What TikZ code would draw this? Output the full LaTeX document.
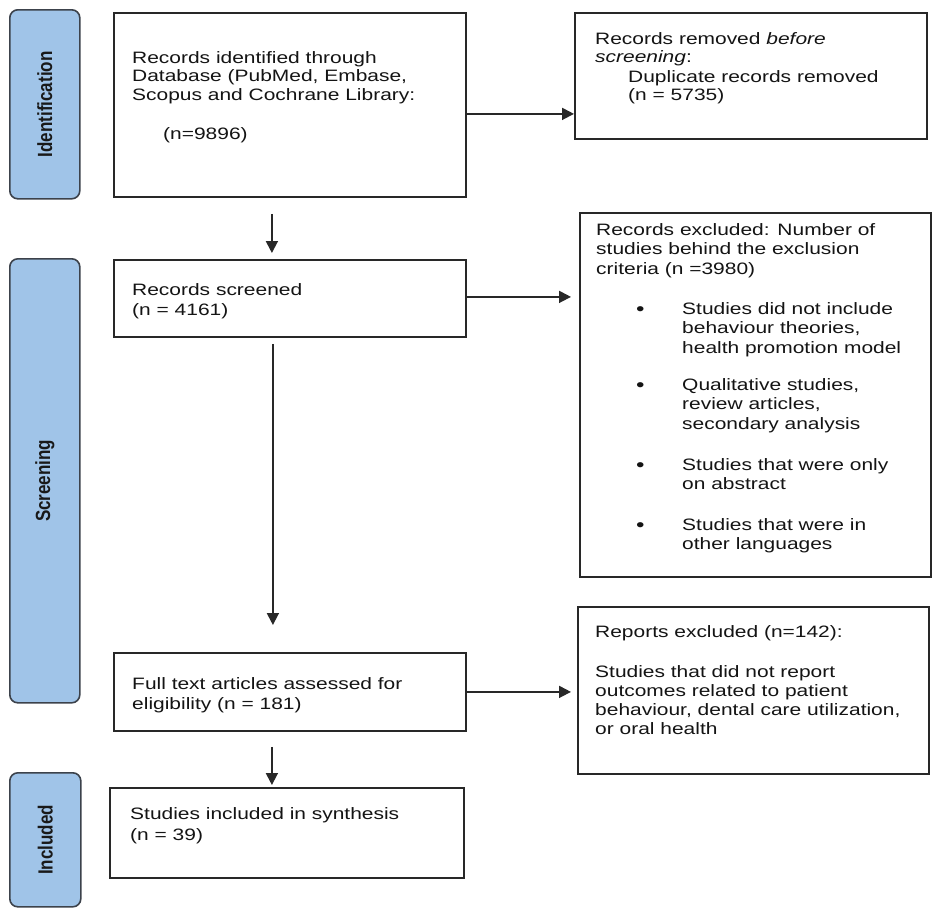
\documentclass[tikz,border=0pt]{standalone}
\usepackage{fontspec}
\setmainfont{Liberation Sans}[FakeStretch=1.27]
\newfontfamily\phasefont{Liberation Sans}[FakeStretch=0.83]
\usetikzlibrary{arrows.meta}
\definecolor{phasefill}{RGB}{160,196,232}
\definecolor{phaseline}{RGB}{60,66,75}
\definecolor{lineclr}{RGB}{40,40,40}
\definecolor{txtclr}{RGB}{20,20,20}
\begin{document}
\begin{tikzpicture}[x=1pt,y=-1pt,
  box/.style={draw=lineclr,line width=1.8pt,fill=white,inner sep=0pt,anchor=north west},
  phase/.style={draw=phaseline,fill=phasefill,line width=1.6pt,rounded corners=8pt,inner sep=0pt,anchor=north west},
  phasetxt/.style={rotate=90,inner sep=0pt,font=\phasefont\bfseries\fontsize{20.5}{24}\selectfont,text=black!90},
  txt/.style={anchor=base west,inner sep=0pt,align=left,text=txtclr,font=\fontsize{16.5}{18.5}\selectfont},
  dot/.style={anchor=base west,inner sep=0pt,text=txtclr,font=\fontsize{19}{19}\selectfont},
  arr/.style={draw=lineclr,line width=1.8pt,-{Triangle[length=12pt,width=12pt]}}]
\useasboundingbox (0,0) rectangle (936,910);
% phases
\node[phase,minimum width=70pt,minimum height=189pt] (pid) at (9,9) {};
\node[phasetxt] (pidt) at (pid.center) {Identification};
\node[phase,minimum width=70pt,minimum height=444pt] (pscr) at (9,258) {};
\node[phasetxt] (pscrt) at (pscr.center) {Screening};
\node[phase,minimum width=71pt,minimum height=134pt] (pinc) at (9,772) {};
\node[phasetxt] (pinct) at (pinc.center) {Included};
% boxes
\node[box,minimum width=352pt,minimum height=184pt] (id) at (113,12) {};
\node[box,minimum width=352pt,minimum height=126pt] (removed) at (574,12) {};
\node[box,minimum width=352pt,minimum height=77pt] (scr) at (113,259) {};
\node[box,minimum width=351pt,minimum height=364pt] (excl) at (579,212) {};
\node[box,minimum width=352pt,minimum height=78pt] (full) at (113,652) {};
\node[box,minimum width=351pt,minimum height=167pt] (repx) at (577,606) {};
\node[box,minimum width=354pt,minimum height=90pt] (incl) at (109,787) {};
% arrows
\coordinate (a1) at ([yshift=-9pt]id.east);
\draw[arr] (a1) -- (a1 -| removed.west);
\coordinate (a2) at ([xshift=-18pt,yshift=-16pt]id.south);
\draw[arr,shorten >=6pt] (a2) -- (a2 |- scr.north);
\coordinate (a3) at ([yshift=1.5pt]scr.east);
\draw[arr,shorten >=8pt] (a3) -- (a3 -| excl.west);
\coordinate (a4) at ([xshift=-17pt,yshift=-6pt]scr.south);
\draw[arr,shorten >=27pt] (a4) -- (a4 |- full.north);
\draw[arr,shorten >=6pt] (full.east) -- (full.east -| repx.west);
\coordinate (a5) at ([xshift=-18pt,yshift=-15pt]full.south);
\draw[arr,shorten >=2pt] (a5) -- (a5 |- incl.north);
% texts (anchor = baseline of the last line)
\node[txt] (t1) at (132,100) {Records identified through\\Database (PubMed, Embase,\\Scopus and Cochrane Library:};
\node[txt] (t1n) at (163,139) {(n=9896)};
\node[txt] (t2) at (595,62.5) {Records removed \textit{before}\\\textit{screening}:};
\node[txt] (t2b) at (628,100.5) {Duplicate records removed\\(n = 5735)};
\node[txt,font=\fontsize{16.5}{20}\selectfont] (t3) at (132,315) {Records screened\\(n = 4161)};
\node[txt,font=\fontsize{16.5}{19.5}\selectfont] (t4) at (596,274) {Records excluded: Number of\\studies behind the exclusion\\criteria (n =3980)};
\node[dot] (d1) at (636,315) {\textbullet};
\node[txt,font=\fontsize{16.5}{19.5}\selectfont] (b1) at (682,353) {Studies did not include\\behaviour theories,\\health promotion model};
\node[dot] (d2) at (636,391) {\textbullet};
\node[txt,font=\fontsize{16.5}{19.5}\selectfont] (b2) at (682,429) {Qualitative studies,\\review articles,\\secondary analysis};
\node[dot] (d3) at (636,471) {\textbullet};
\node[txt,font=\fontsize{16.5}{19.5}\selectfont] (b3) at (682,489.5) {Studies that were only\\on abstract};
\node[dot] (d4) at (636,531) {\textbullet};
\node[txt,font=\fontsize{16.5}{19.5}\selectfont] (b4) at (682,549.5) {Studies that were in\\other languages};
\node[txt,font=\fontsize{16.5}{20}\selectfont] (t5) at (132,709) {Full text articles assessed for\\eligibility (n = 181)};
\node[txt,font=\fontsize{16.5}{21}\selectfont] (t6) at (130,840) {Studies included in synthesis\\(n = 39)};
\node[txt] (t7) at (595,637) {Reports excluded (n=142):};
\node[txt,font=\fontsize{16.5}{19}\selectfont] (t7b) at (595,734) {Studies that did not report\\outcomes related to patient\\behaviour, dental care utilization,\\or oral health};
\end{tikzpicture}
\end{document}
